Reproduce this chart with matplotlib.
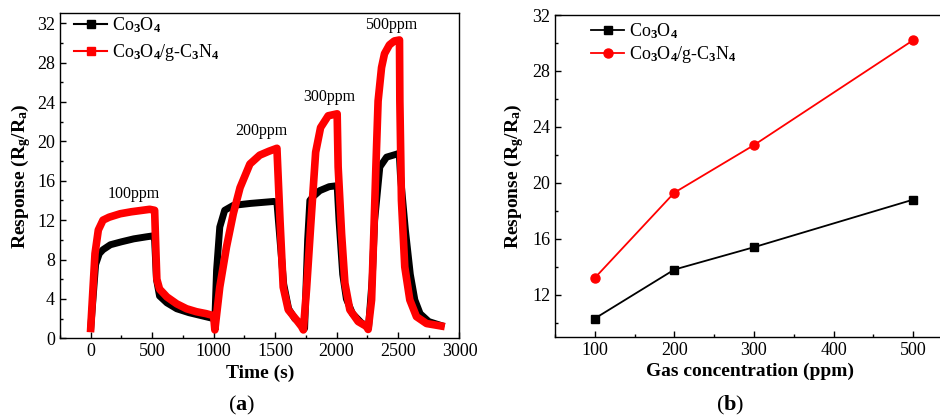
import matplotlib
matplotlib.use("Agg")
import matplotlib.pyplot as plt
from matplotlib.lines import Line2D
from matplotlib.ticker import MultipleLocator

plt.rcParams["font.family"] = "Liberation Serif"
plt.rcParams["mathtext.fontset"] = "custom"
plt.rcParams["mathtext.rm"] = "Liberation Serif"
plt.rcParams["mathtext.bf"] = "Liberation Serif:bold"
plt.rcParams["mathtext.it"] = "Liberation Serif:italic"
plt.rcParams["mathtext.default"] = "bf"

# ── Data: (a) dynamic response vs time ───────────────────────────────────────
t_co = [0, 40, 70, 100, 160, 250, 350, 450, 505, 520, 535, 560, 620, 700, 800, 900, 1000,
        1010, 1024, 1050, 1090, 1160, 1300, 1490, 1515, 1540, 1570, 1610, 1660, 1720, 1740,
        1765, 1783, 1810, 1864, 1940, 2005, 2020, 2050, 2080, 2130, 2200, 2260,
        2290, 2310, 2352, 2407, 2488, 2510, 2520, 2560, 2600, 2637, 2680, 2750, 2850]
r_co = [1.0, 7.5, 8.6, 9.0, 9.5, 9.8, 10.1, 10.3, 10.4, 10.0, 6.0, 4.3, 3.6, 3.0, 2.6, 2.3, 2.0,
        1.9, 6.9, 11.3, 13.0, 13.5, 13.7, 13.9, 13.8, 10.0, 5.5, 3.0, 2.0, 1.4, 1.0,
        10.0, 14.0, 14.4, 15.0, 15.4, 15.5, 12.0, 6.5, 4.0, 2.5, 1.6, 1.1,
        6.0, 12.0, 17.4, 18.4, 18.7, 18.8, 16.5, 11.0, 6.5, 3.9, 2.5, 1.7, 1.3]

t_cn = [0, 35, 62, 100, 150, 240, 330, 420, 480, 520, 530, 538, 560, 620, 700, 780, 860, 940, 1000,
        1010, 1050, 1105, 1160, 1215, 1295, 1375, 1450, 1515, 1540, 1566, 1607, 1675, 1715, 1730,
        1756, 1790, 1830, 1870, 1932, 2005, 2013, 2041, 2068, 2108, 2176, 2244, 2257,
        2285, 2303, 2320, 2338, 2366, 2390, 2430, 2470, 2512, 2515, 2528, 2555, 2596, 2650, 2732, 2850]
r_cn = [1.0, 8.6, 11.0, 12.0, 12.3, 12.65, 12.85, 13.0, 13.1, 13.0, 9.0, 6.0, 5.0, 4.2, 3.5, 3.0, 2.7, 2.5, 2.3,
        0.85, 5.2, 9.3, 12.65, 15.3, 17.7, 18.6, 19.0, 19.3, 12.0, 5.2, 2.9, 1.85, 1.2, 0.85,
        5.0, 11.5, 18.9, 21.4, 22.6, 22.8, 17.4, 10.6, 5.6, 2.9, 1.7, 1.2, 0.9,
        3.9, 10.6, 17.4, 24.1, 27.5, 28.9, 29.8, 30.2, 30.3, 24.1, 14.0, 7.25, 3.9, 2.2, 1.5, 1.25]

peak_labels = ["100ppm", "200ppm", "300ppm", "500ppm"]
peak_t = [352, 1390, 1938, 2447]
peak_r = [14.7, 21.1, 24.5, 31.8]

# ── Data: (b) response vs concentration ──────────────────────────────────────
conc = [100, 200, 300, 500]
resp_co = [10.3, 13.8, 15.4, 18.8]
resp_cn = [13.2, 19.3, 22.7, 30.2]

LBL_CO = r"Co$_3$O$_4$"
LBL_CN = r"Co$_3$O$_4$/g-C$_3$N$_4$"
RED = "#ff0000"

fig = plt.figure(figsize=(9.4, 4.16), dpi=100)
ax1 = fig.add_axes([0.0638, 0.1868, 0.425, 0.781])
ax2 = fig.add_axes([0.5904, 0.1906, 0.4149, 0.7733])


def style_axes(ax):
    for s in ax.spines.values():
        s.set_linewidth(1.0)
    ax.tick_params(which="both", direction="in", top=False, right=False, labelsize=13, width=1.0)
    ax.tick_params(which="major", length=4)
    ax.tick_params(which="minor", length=2.5)


# (a)
ax1.plot(t_co, r_co, color="black", lw=5.0, solid_joinstyle="round", zorder=2)
ax1.plot(t_cn, r_cn, color=RED, lw=5.5, solid_joinstyle="round", zorder=3)
for lab, tx, ty in zip(peak_labels, peak_t, peak_r):
    ax1.text(tx, ty, lab, ha="center", va="center", fontsize=11.5)
ax1.set_xlim(-250, 3000)
ax1.set_ylim(0, 33)
ax1.xaxis.set_major_locator(MultipleLocator(500))
ax1.xaxis.set_minor_locator(MultipleLocator(250))
ax1.yaxis.set_major_locator(MultipleLocator(4))
ax1.yaxis.set_minor_locator(MultipleLocator(2))
style_axes(ax1)
ax1.set_xlabel("Time (s)", fontsize=14, fontweight="bold", labelpad=3)
ax1.set_ylabel(r"Response (R$_g$/R$_a$)", fontsize=14, fontweight="bold", labelpad=3)
h1 = [Line2D([0], [0], color="black", lw=1.5, marker="s", ms=6),
      Line2D([0], [0], color=RED, lw=1.5, marker="s", ms=6)]
ax1.legend(h1, [LBL_CO, LBL_CN], loc="upper left", bbox_to_anchor=(0.035, 0.995), frameon=False,
           fontsize=13, handlelength=1.85, handletextpad=0.25, labelspacing=0.4,
           borderpad=0, borderaxespad=0)

# (b)
ax2.plot(conc, resp_co, color="black", lw=1.3, marker="s", ms=6)
ax2.plot(conc, resp_cn, color=RED, lw=1.3, marker="o", ms=6.5)
ax2.set_xlim(50, 540)
ax2.set_ylim(9, 32)
ax2.xaxis.set_major_locator(MultipleLocator(100))
ax2.xaxis.set_minor_locator(MultipleLocator(50))
ax2.yaxis.set_major_locator(MultipleLocator(4))
ax2.yaxis.set_minor_locator(MultipleLocator(2))
ax2.set_yticks([12, 16, 20, 24, 28, 32])
style_axes(ax2)
ax2.set_xlabel("Gas concentration (ppm)", fontsize=14, fontweight="bold", labelpad=3)
ax2.set_ylabel(r"Response (R$_g$/R$_a$)", fontsize=14, fontweight="bold", labelpad=4)
h2 = [Line2D([0], [0], color="black", lw=1.3, marker="s", ms=6),
      Line2D([0], [0], color=RED, lw=1.3, marker="o", ms=6.5)]
ax2.legend(h2, [LBL_CO, LBL_CN], loc="upper left", bbox_to_anchor=(0.092, 0.98), frameon=False,
           fontsize=13, handlelength=1.85, handletextpad=0.25, labelspacing=0.15,
           borderpad=0, borderaxespad=0)

fig.text(241.7 / 940, 1 - 405 / 416, r"($\mathbf{a}$)", ha="center", va="center",
         fontsize=16)
fig.text(730 / 940, 1 - 405 / 416, r"($\mathbf{b}$)", ha="center", va="center",
         fontsize=16)

fig.savefig("out.png", dpi=100)
